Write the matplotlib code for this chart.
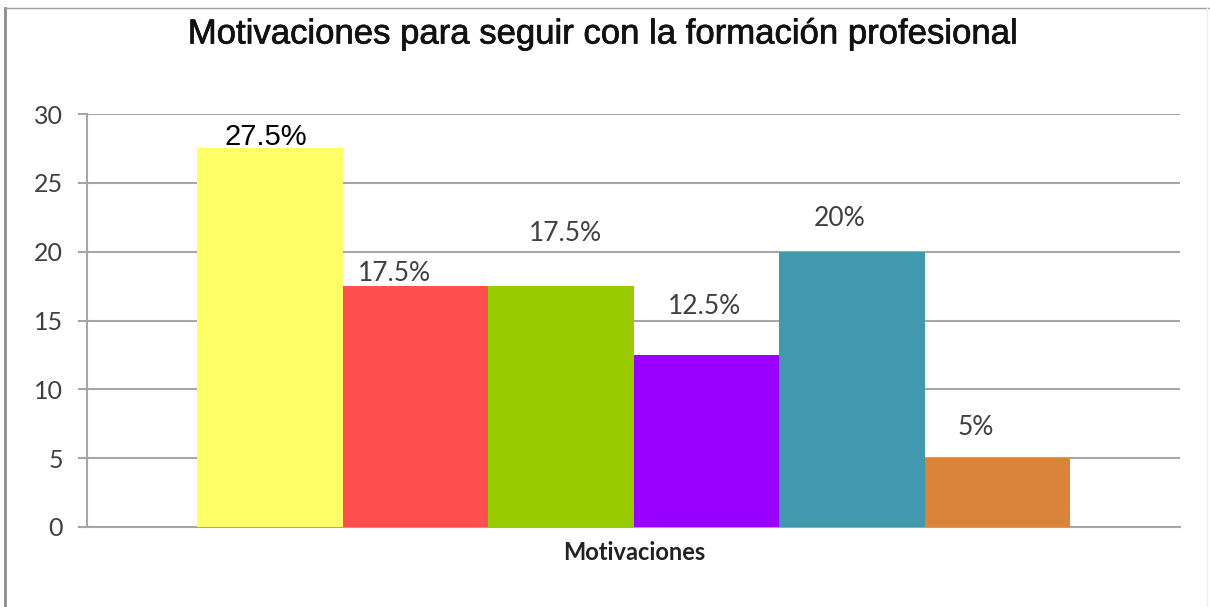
import matplotlib
matplotlib.use("Agg")
import matplotlib.pyplot as plt
from matplotlib.lines import Line2D
import matplotlib.patheffects as pe

categories = ["Motivación 1", "Motivación 2", "Motivación 3", "Motivación 4", "Motivación 5", "Motivación 6"]
values = [27.5, 17.5, 17.5, 12.5, 20, 5]
labels = ["27.5%", "17.5%", "17.5%", "12.5%", "20%", "5%"]
y_ticks = [0, 5, 10, 15, 20, 25, 30]
title = "Motivaciones para seguir con la formación profesional"
xlabel = "Motivaciones"

colors = ["#FFFF66", "#FF5050", "#99CC00", "#9900FF", "#4298AF", "#DA843B"]
label_colors = ["#000000", "#404040", "#404040", "#404040", "#404040", "#404040"]
label_fonts = ["Liberation Sans", "Lato", "Lato", "Lato", "Lato", "Lato"]
label_sizes = [21, 19, 19, 19, 19, 19]
# label position offsets (x in bar units, y above value in data units)
label_dx = [-0.03, -0.14, 0.03, -0.01, -0.08, -0.15]
label_dy = [0.8, 0.95, 3.85, 3.5, 2.4, 2.2]

fig = plt.figure(figsize=(12.1, 6.07), dpi=100)
ax = fig.add_axes([87/1210, 1-527/607, (1180-87)/1210, (527-114)/607])

x = list(range(len(values)))
ax.bar(x, values, width=1.0, color=colors, zorder=3)

ax.set_ylim(0, 30)
gap = 110/145.5
ax.set_xlim(-0.5 - gap, len(values) - 0.5 + gap)
ax.set_yticks(y_ticks)
ax.set_yticklabels([str(t) for t in y_ticks], fontfamily="Lato", fontsize=18, color="#404040")
ax.set_xticks([])
ax.yaxis.grid(True, color="#A6A6A6", linewidth=1.5, zorder=0)
ax.set_axisbelow(True)
for s in ["top", "right"]:
    ax.spines[s].set_visible(False)
for s in ["left", "bottom"]:
    ax.spines[s].set_color("#A6A6A6")
    ax.spines[s].set_linewidth(1.5)
ax.tick_params(axis="y", length=6.5, width=1.5, color="#A6A6A6", pad=11)

for i, v in enumerate(values):
    ax.text(i + label_dx[i], v + label_dy[i], labels[i], ha="center", va="center",
            fontsize=label_sizes[i], color=label_colors[i], fontfamily=label_fonts[i], zorder=4)

fig.text(0.4988, 1-34/607, title, ha="center", va="center", fontsize=25,
         fontfamily="Liberation Sans", color="#111111",
         path_effects=[pe.withStroke(linewidth=0.5, foreground="#111111")])
fig.text(634/1210, 1-553/607, xlabel, ha="center", va="center", fontsize=17,
         fontweight="bold", fontfamily="Lato", color="#222222")

fig.add_artist(Line2D([5/1210, 5/1210], [0, 1-8/607], color="#8C8C8C", linewidth=2))
fig.add_artist(Line2D([5/1210, 1], [1-8/607, 1-8/607], color="#A0A0A0", linewidth=1))
fig.add_artist(Line2D([1207/1210, 1207/1210], [0, 1-8/607], color="#EEEEEE", linewidth=1))

fig.savefig("out.png", dpi=100)
